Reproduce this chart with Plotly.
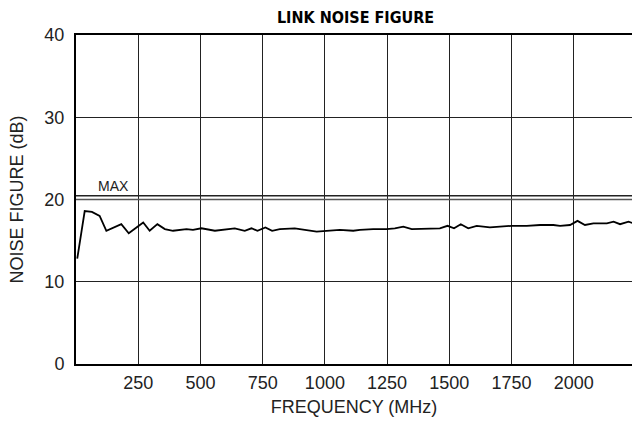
import plotly.graph_objects as go

# frequency sweep (MHz) and measured link noise figure (dB)
freq_mhz = [5, 35, 64, 95, 122, 182, 212, 270, 296, 327, 357, 390, 444, 470, 504,
            558, 638, 678, 705, 729, 761, 788, 819, 879, 967, 1007, 1060, 1114, 1141,
            1194, 1248, 1281, 1315, 1349, 1409, 1462, 1493, 1519, 1546, 1576, 1610,
            1663, 1751, 1811, 1865, 1918, 1945, 1985, 2015, 2045, 2079, 2133, 2160,
            2186, 2220, 2240]
noise_figure_db = [12.8, 18.6, 18.5, 18.0, 16.2, 17.0, 15.9, 17.2, 16.2, 17.0, 16.4,
                   16.2, 16.4, 16.3, 16.5, 16.2, 16.5, 16.2, 16.5, 16.2, 16.6, 16.2,
                   16.4, 16.5, 16.1, 16.2, 16.3, 16.2, 16.3, 16.4, 16.4, 16.5, 16.7,
                   16.4, 16.5, 16.5, 16.8, 16.5, 17.0, 16.5, 16.8, 16.6, 16.8, 16.8,
                   16.9, 16.9, 16.8, 16.9, 17.4, 16.9, 17.1, 17.1, 17.3, 17.0, 17.3, 17.1]

max_limit_db = [20.0, 20.45]
x_ticks = [250, 500, 750, 1000, 1250, 1500, 1750, 2000]
y_ticks = [0, 10, 20, 30, 40]

fig = go.Figure()

fig.add_trace(go.Scatter(x=[0, 2240], y=[max_limit_db[0]] * 2, mode='lines',
                         line=dict(color='#555555', width=1.5),
                         hoverinfo='skip', showlegend=False))
fig.add_trace(go.Scatter(x=[0, 2240], y=[max_limit_db[1]] * 2, mode='lines',
                         line=dict(color='#222222', width=1.5),
                         hoverinfo='skip', showlegend=False))

fig.add_trace(go.Scatter(x=freq_mhz, y=noise_figure_db, mode='lines',
                         line=dict(color='black', width=1.8),
                         showlegend=False))

fig.add_annotation(x=80, y=max_limit_db[1], text='MAX', showarrow=False,
                   xanchor='left', yanchor='bottom', yshift=0,
                   font=dict(size=14, color='#222222'))

fig.update_layout(
    width=632, height=423,
    margin=dict(l=76, r=0, t=35, b=59),
    plot_bgcolor='white',
    paper_bgcolor='white',
    font=dict(family='Liberation Sans, Arial, sans-serif', size=18, color='#222222'),
    title=dict(text='<b>LINK NOISE FIGURE</b>', x=0.5625, xanchor='center',
               y=1 - 17 / 423, yanchor='middle',
               font=dict(family='DejaVu Sans Condensed, sans-serif', size=16, color='black')),
    xaxis=dict(range=[0, 2234], tickvals=x_ticks, showgrid=True, gridcolor='#222222', gridwidth=1,
               zeroline=False, showline=True, linecolor='black', linewidth=2, mirror=True,
               ticklabelstandoff=1, automargin=False,
               title=dict(text='FREQUENCY (MHz)', standoff=9, font=dict(size=18))),
    yaxis=dict(range=[0, 40], tickvals=y_ticks, showgrid=True, gridcolor='#222222', gridwidth=1,
               zeroline=False, showline=True, linecolor='black', linewidth=2,
               ticklabelstandoff=6, automargin=False,
               title=dict(text='NOISE FIGURE (dB)', standoff=16, font=dict(size=18))),
)

fig.write_html("out.html", config={'displayModeBar': False},
               post_script="document.body.style.margin='0';")
